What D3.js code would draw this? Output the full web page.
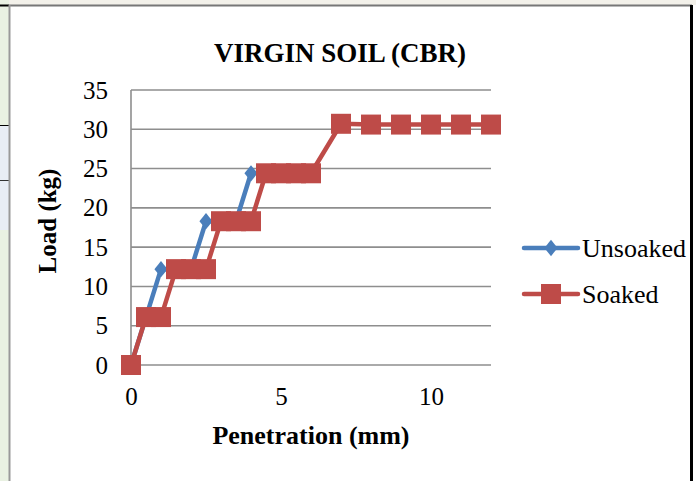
<!DOCTYPE html>
<html>
<head>
<meta charset="utf-8">
<script src="https://cdn.jsdelivr.net/npm/d3@7"></script>
<style>
  body { margin: 0; background: #fff; }
  svg { display: block; font-family: "Liberation Serif", "Times New Roman", serif; }
</style>
</head>
<body>
<div id="chart"></div>
<script>
// Penetration (mm) and load (kg)
const soakedX = [0, 0.5, 1, 1.5, 2, 2.5, 3, 3.5, 4, 4.5, 5, 5.5, 6, 7, 8, 9, 10, 11, 12];
const soakedY = [0, 6.1, 6.1, 12.2, 12.2, 12.2, 18.3, 18.3, 18.3, 24.4, 24.4, 24.4, 24.4, 30.7, 30.6, 30.6, 30.6, 30.6, 30.6];
const unsoakedX = [0, 0.5, 1, 1.5, 2, 2.5, 3, 3.5, 4];
const unsoakedY = [0, 6.1, 12.2, 12.2, 12.2, 18.3, 18.3, 18.3, 24.4];
const xTicks = [0, 5, 10];
const yTicks = [0, 5, 10, 15, 20, 25, 30, 35];
const seriesNames = ["Unsoaked", "Soaked"];

const W = 696, H = 481;
const svg = d3.select("#chart").append("svg")
	.attr("width", W)
	.attr("height", H);

// page fragments around the chart frame
svg.append("rect").attr("x", 0).attr("y", 0).attr("width", W).attr("height", 5).attr("fill", "#f3f1ea");
svg.append("rect").attr("x", 0).attr("y", 0).attr("width", 9).attr("height", H).attr("fill", "#e9f1e2");
svg.append("rect").attr("x", 0).attr("y", 125).attr("width", 9).attr("height", 105).attr("fill", "#e8edf5");
svg.append("line").attr("x1", 0).attr("x2", 9).attr("y1", 125.5).attr("y2", 125.5).attr("stroke", "#000");
svg.append("line").attr("x1", 0).attr("x2", 9).attr("y1", 180.5).attr("y2", 180.5).attr("stroke", "#333");
svg.append("line").attr("x1", 0).attr("x2", 9).attr("y1", 5.5).attr("y2", 5.5).attr("stroke", "#000").attr("stroke-width", 2);

// chart frame
svg.append("rect").attr("x", 9).attr("y", 5).attr("width", 682).attr("height", H).attr("fill", "#fff");
svg.append("line").attr("x1", 9).attr("x2", 692).attr("y1", 5.5).attr("y2", 5.5).attr("stroke", "#777").attr("stroke-width", 2);
svg.append("line").attr("x1", 9.5).attr("x2", 9.5).attr("y1", 5).attr("y2", H).attr("stroke", "#999").attr("stroke-width", 2);
svg.append("line").attr("x1", 691.5).attr("x2", 691.5).attr("y1", 5).attr("y2", H).attr("stroke", "#000").attr("stroke-width", 3);

const x = d3.scaleLinear().domain([0, 12]).range([131, 491]);
const y = d3.scaleLinear().domain([0, 35]).range([365, 90]);

// gridlines
svg.append("g")
	.selectAll("line")
	.data(yTicks)
	.join("line")
	.attr("x1", x(0)).attr("x2", x(12))
	.attr("y1", d => y(d)).attr("y2", d => y(d))
	.attr("stroke", "#8e8e8e")
	.attr("stroke-width", 1.6);

// left axis line
svg.append("line")
	.attr("x1", x(0)).attr("x2", x(0))
	.attr("y1", y(0)).attr("y2", y(35))
	.attr("stroke", "#8e8e8e")
	.attr("stroke-width", 1.6);

// tick labels
const yAxis = d3.axisLeft(y).tickValues(yTicks).tickSize(0).tickPadding(23);
svg.append("g").attr("transform", "translate(131,0)").call(yAxis)
	.call(g => g.select(".domain").remove())
	.selectAll("text")
	.attr("font-family", "Liberation Serif")
	.attr("font-size", 25)
	.attr("fill", "#000");

const xAxis = d3.axisBottom(x).tickValues(xTicks).tickSize(0).tickPadding(22);
svg.append("g").attr("transform", "translate(0,365)").call(xAxis)
	.call(g => g.select(".domain").remove())
	.selectAll("text")
	.attr("font-family", "Liberation Serif")
	.attr("font-size", 25)
	.attr("fill", "#000");

// titles
svg.append("text")
	.attr("x", 340).attr("y", 62)
	.attr("text-anchor", "middle")
	.attr("font-size", 27)
	.attr("font-weight", "bold")
	.text("VIRGIN SOIL (CBR)");

svg.append("text")
	.attr("x", 311).attr("y", 444)
	.attr("text-anchor", "middle")
	.attr("font-size", 26)
	.attr("font-weight", "bold")
	.text("Penetration (mm)");

svg.append("text")
	.attr("transform", "translate(56,221) rotate(-90)")
	.attr("text-anchor", "middle")
	.attr("font-size", 25)
	.attr("font-weight", "bold")
	.text("Load (kg)");

const blue = "#4a7ebb", red = "#be4b48";
const line = d3.line().x(d => x(d[0])).y(d => y(d[1]));
const diamond = d3.symbol().type(d3.symbolSquare).size(120);

// Unsoaked
const unsoaked = unsoakedX.map((v, i) => [v, unsoakedY[i]]);
svg.append("path").datum(unsoaked)
	.attr("d", line)
	.attr("fill", "none")
	.attr("stroke", blue)
	.attr("stroke-width", 4.5)
	.attr("stroke-linejoin", "round");
svg.append("g").selectAll("path")
	.data(unsoaked)
	.join("path")
	.attr("d", diamond)
	.attr("transform", d => `translate(${x(d[0])},${y(d[1])}) scale(0.85,1.05) rotate(45)`)
	.attr("fill", blue);

// Soaked
const soaked = soakedX.map((v, i) => [v, soakedY[i]]);
svg.append("path").datum(soaked)
	.attr("d", line)
	.attr("fill", "none")
	.attr("stroke", red)
	.attr("stroke-width", 4.5)
	.attr("stroke-linejoin", "round");
svg.append("g").selectAll("rect")
	.data(soaked)
	.join("rect")
	.attr("x", d => x(d[0]) - 10)
	.attr("y", d => y(d[1]) - 10)
	.attr("width", 20)
	.attr("height", 20)
	.attr("fill", red);

// legend
const legend = svg.append("g");
const legendY = [248, 294];
seriesNames.forEach((name, i) => {
	const g = legend.append("g").attr("transform", `translate(0,${legendY[i]})`);
	const c = i === 0 ? blue : red;
	g.append("line")
		.attr("x1", 524).attr("x2", 578)
		.attr("y1", 0).attr("y2", 0)
		.attr("stroke", c)
		.attr("stroke-width", 4.5)
		.attr("stroke-linecap", "round");
	if (i === 0) {
		g.append("path").attr("d", diamond).attr("transform", "translate(551,0) scale(0.85,1.05) rotate(45)").attr("fill", c);
	} else {
		g.append("rect").attr("x", 541).attr("y", -10).attr("width", 20).attr("height", 20).attr("fill", c);
	}
	g.append("text")
		.attr("x", 582).attr("y", 9)
		.attr("font-size", 26)
		.text(name);
});
</script>
</body>
</html>
